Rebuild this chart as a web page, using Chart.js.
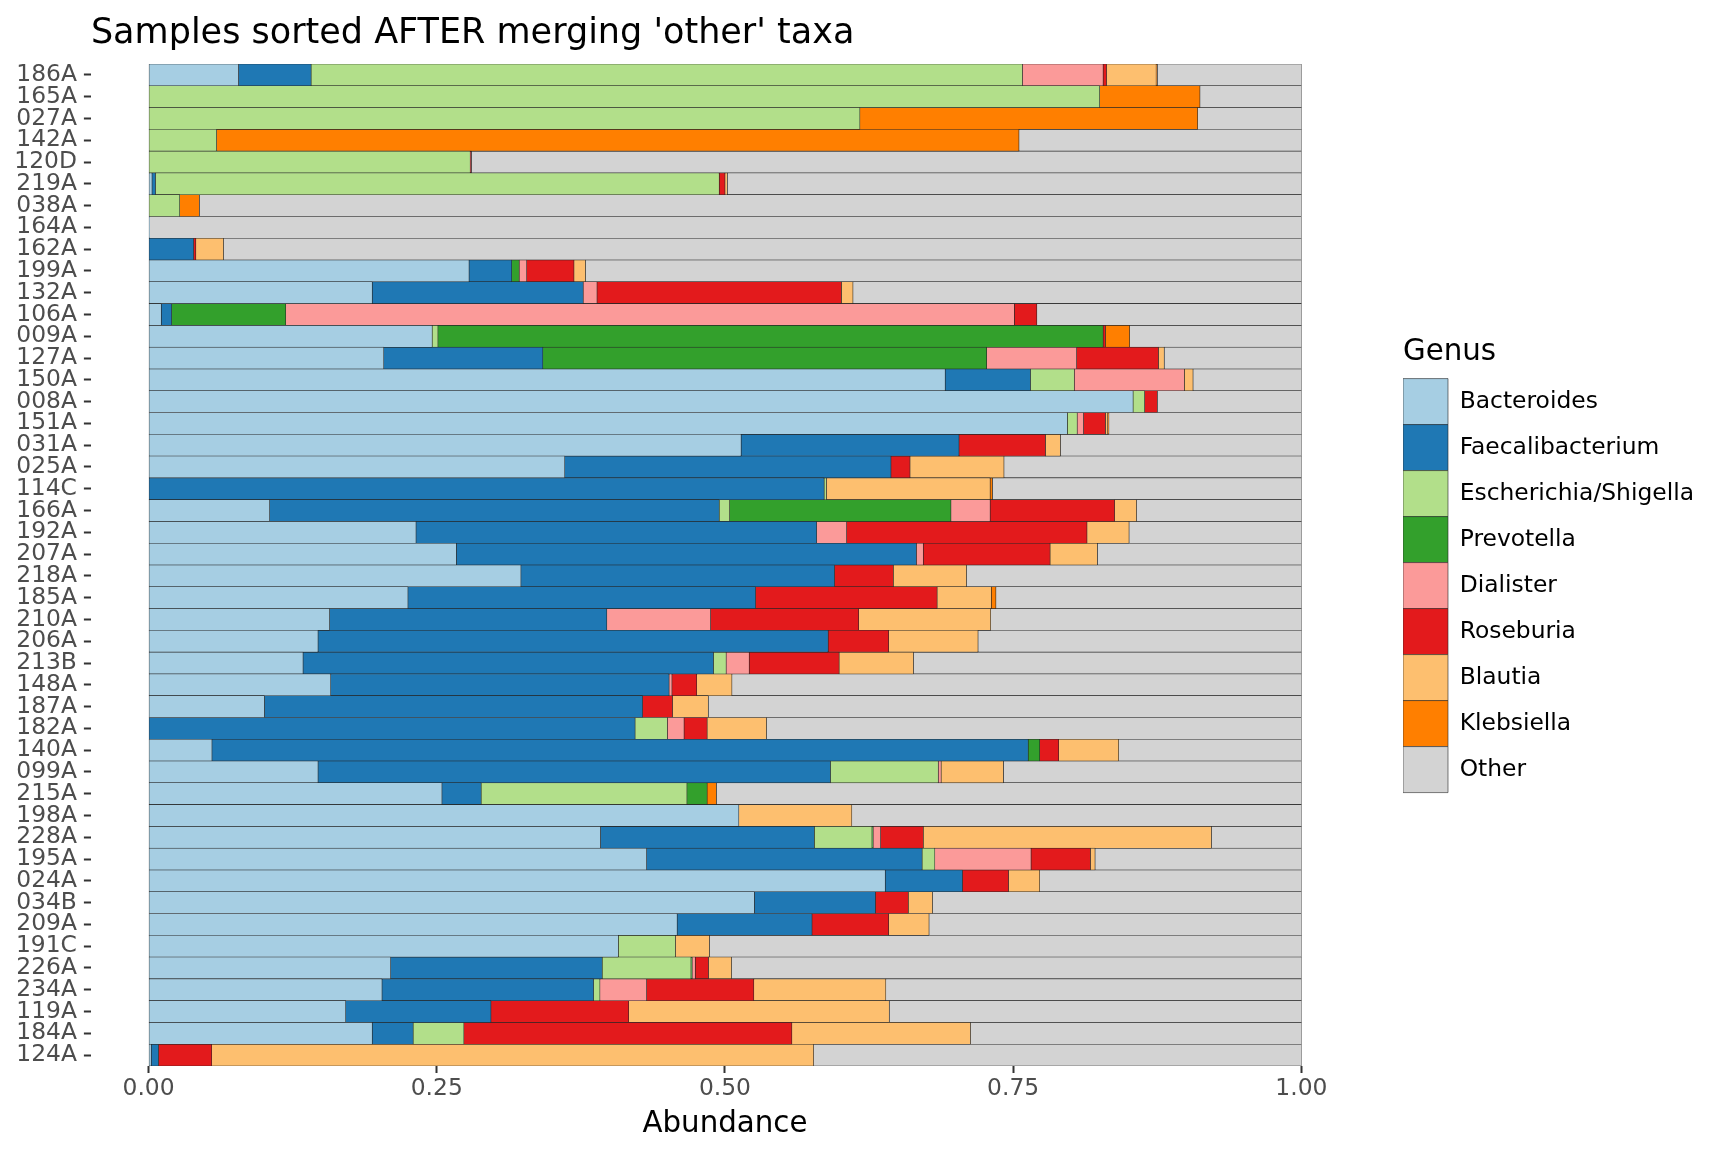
<!DOCTYPE html>
<html><head><meta charset="utf-8">
<script src="https://cdn.jsdelivr.net/npm/chart.js@4.4.1/dist/chart.umd.min.js"></script>
<style>html,body{margin:0;padding:0;background:#fff;} #wrap{width:1728px;height:1152px;position:relative;}</style>
</head><body><div id="wrap"><canvas id="c"></canvas></div>
<script>
const samples = ['186A','165A','027A','142A','120D','219A','038A','164A','162A','199A','132A','106A','009A','127A','150A','008A','151A','031A','025A','114C','166A','192A','207A','218A','185A','210A','206A','213B','148A','187A','182A','140A','099A','215A','198A','228A','195A','024A','034B','209A','191C','226A','234A','119A','184A','124A'];
const genera = ['Bacteroides','Faecalibacterium','Escherichia/Shigella','Prevotella','Dialister','Roseburia','Blautia','Klebsiella','Other'];
const genusColors = ['#A6CEE3','#1F78B4','#B2DF8A','#33A02C','#FB9A99','#E31A1C','#FDBF6F','#FF7F00','#D3D3D3'];
const xTickValues = [0, 0.25, 0.5, 0.75, 1];

const bacteroides = [0.078,0,0,0,0,0.003,0,0.001,0,0.278,0.194,0.011,0.246,0.204,0.691,0.854,0.797,0.514,0.361,0,0.105,0.232,0.267,0.323,0.225,0.157,0.147,0.134,0.158,0.1005,0,0.055,0.147,0.2545,0.512,0.392,0.432,0.639,0.5255,0.4585,0.4075,0.21,0.2025,0.171,0.194,0.0023];
const faecalibacterium = [0.063,0,0,0,0,0.003,0,0,0.039,0.037,0.183,0.009,0,0.138,0.074,0,0,0.189,0.283,0.586,0.390,0.3475,0.399,0.272,0.3015,0.2405,0.4425,0.356,0.2935,0.328,0.422,0.708,0.4445,0.034,0,0.1855,0.239,0.067,0.105,0.117,0,0.1835,0.1835,0.126,0.0355,0.0063];
const escherichia = [0.617,0.825,0.617,0.059,0.279,0.489,0.027,0,0,0,0,0,0.005,0,0.038,0.010,0.0085,0,0,0.002,0.009,0,0,0,0,0,0,0.011,0,0,0.028,0,0.0935,0.1785,0,0.050,0.011,0,0,0,0.0495,0.077,0.0055,0,0.044,0];
const prevotella = [0,0,0,0,0,0,0,0,0,0.0065,0,0.099,0.577,0.385,0,0,0,0,0,0,0.192,0,0,0,0,0,0,0,0,0,0,0.010,0,0.0175,0,0.001,0,0,0,0,0,0.001,0,0,0,0];
const dialister = [0.070,0,0,0,0,0,0,0,0,0.0065,0.012,0.632,0,0.078,0.0955,0,0.0055,0,0,0,0.034,0.026,0.006,0,0,0.090,0,0.020,0.0025,0,0.0145,0,0.0025,0,0,0.0065,0.0835,0,0,0,0,0.0027,0.0405,0,0,0];
const roseburia = [0.003,0,0,0,0.001,0.005,0,0,0.002,0.041,0.212,0.0195,0.002,0.071,0,0.011,0.019,0.075,0.0165,0,0.108,0.2085,0.110,0.051,0.1575,0.1285,0.0525,0.078,0.0215,0.026,0.020,0.0165,0,0,0,0.037,0.0515,0.040,0.0285,0.0665,0,0.0115,0.093,0.1195,0.2845,0.0462];
const blautia = [0.043,0,0,0,0,0.002,0,0,0.024,0.010,0.010,0,0,0.005,0.0075,0,0.002,0.013,0.0815,0.142,0.019,0.0365,0.041,0.0635,0.047,0.1145,0.0775,0.0645,0.0305,0.031,0.0515,0.052,0.054,0,0.098,0.250,0.004,0.027,0.021,0.035,0.0295,0.020,0.1145,0.226,0.155,0.5221];
const klebsiella = [0.001,0.087,0.293,0.696,0,0,0.017,0,0,0,0,0,0.021,0,0,0,0.001,0,0,0.002,0,0,0,0,0.004,0,0,0,0,0,0,0,0,0.008,0,0,0,0,0,0,0,0,0,0,0,0];
const other = [0.125,0.088,0.090,0.245,0.720,0.498,0.956,0.999,0.935,0.621,0.389,0.2295,0.149,0.119,0.094,0.125,0.167,0.209,0.258,0.268,0.143,0.1495,0.177,0.2905,0.265,0.2695,0.2805,0.3365,0.494,0.5145,0.464,0.1585,0.2585,0.5075,0.390,0.078,0.179,0.227,0.320,0.323,0.5135,0.4943,0.3605,0.3575,0.287,0.4231];

const F = '"DejaVu Sans", sans-serif';
const series = [bacteroides, faecalibacterium, escherichia, prevotella, dialister, roseburia, blautia, klebsiella, other];
const datasets = genera.map((g, i) => ({
  label: g,
  data: series[i],
  backgroundColor: genusColors[i],
  borderColor: '#262626',
  borderWidth: 0.6,
  borderSkipped: false,
  barPercentage: 1,
  categoryPercentage: 1
}));

new Chart(document.getElementById('c'), {
  type: 'bar',
  data: { labels: samples, datasets },
  options: {
    indexAxis: 'y',
    responsive: true,
    maintainAspectRatio: false,
    animation: false,
    layout: { padding: { left: 0, right: 24, top: 0, bottom: 0 } },
    plugins: {
      title: {
        display: true,
        text: "Samples sorted AFTER merging 'other' taxa",
        align: 'start',
        fullSize: false,
        color: '#000',
        font: { family: F, size: 35, weight: 'normal', lineHeight: 1.2 },
        padding: { top: 13, bottom: 9 }
      },
      legend: {
        display: true,
        position: 'right',
        align: 'center',
        fullSize: false,
        maxWidth: 420,
        labels: {
          boxWidth: 45,
          boxHeight: 46,
          padding: 0,
          color: '#000',
          font: { family: F, size: 23.4 }
        },
        title: {
          display: true,
          text: 'Genus',
          position: 'start',
          color: '#000',
          font: { family: F, size: 29.3, lineHeight: 1.2 },
          padding: { top: 0, bottom: 6 }
        }
      },
      tooltip: { enabled: false }
    },
    scales: {
      x: {
        type: 'linear',
        stacked: true,
        min: -0.05,
        max: 1.05,
        afterBuildTicks: s => { s.ticks = xTickValues.map(v => ({ value: v })); },
        ticks: {
          callback: v => Number(v).toFixed(2),
          color: '#4D4D4D',
          font: { family: F, size: 23.4 },
          padding: 2,
          maxRotation: 0,
          autoSkip: false
        },
        grid: { drawOnChartArea: false, drawTicks: true, tickLength: 7, tickColor: '#333333', tickWidth: 2 },
        border: { display: false },
        title: {
          display: true,
          text: 'Abundance',
          color: '#000',
          font: { family: F, size: 29.3, lineHeight: 1.2 },
          padding: { top: 0, bottom: 10 }
        },
        afterFit: s => { s.height = 86; }
      },
      y: {
        type: 'category',
        stacked: true,
        offset: true,
        ticks: { color: '#4D4D4D', font: { family: F, size: 23.4 }, padding: 7, autoSkip: false },
        grid: { offset: false, drawOnChartArea: false, drawTicks: true, tickLength: 7, tickColor: '#333333', tickWidth: 2 },
        border: { display: false },
        afterFit: s => { s.width = 90.9; }
      },
      gap: {
        type: 'linear',
        position: 'right',
        display: true,
        grid: { display: false },
        border: { display: false },
        ticks: { display: false },
        afterFit: s => { s.width = 44; }
      }
    }
  }
});
</script>
</body></html>
